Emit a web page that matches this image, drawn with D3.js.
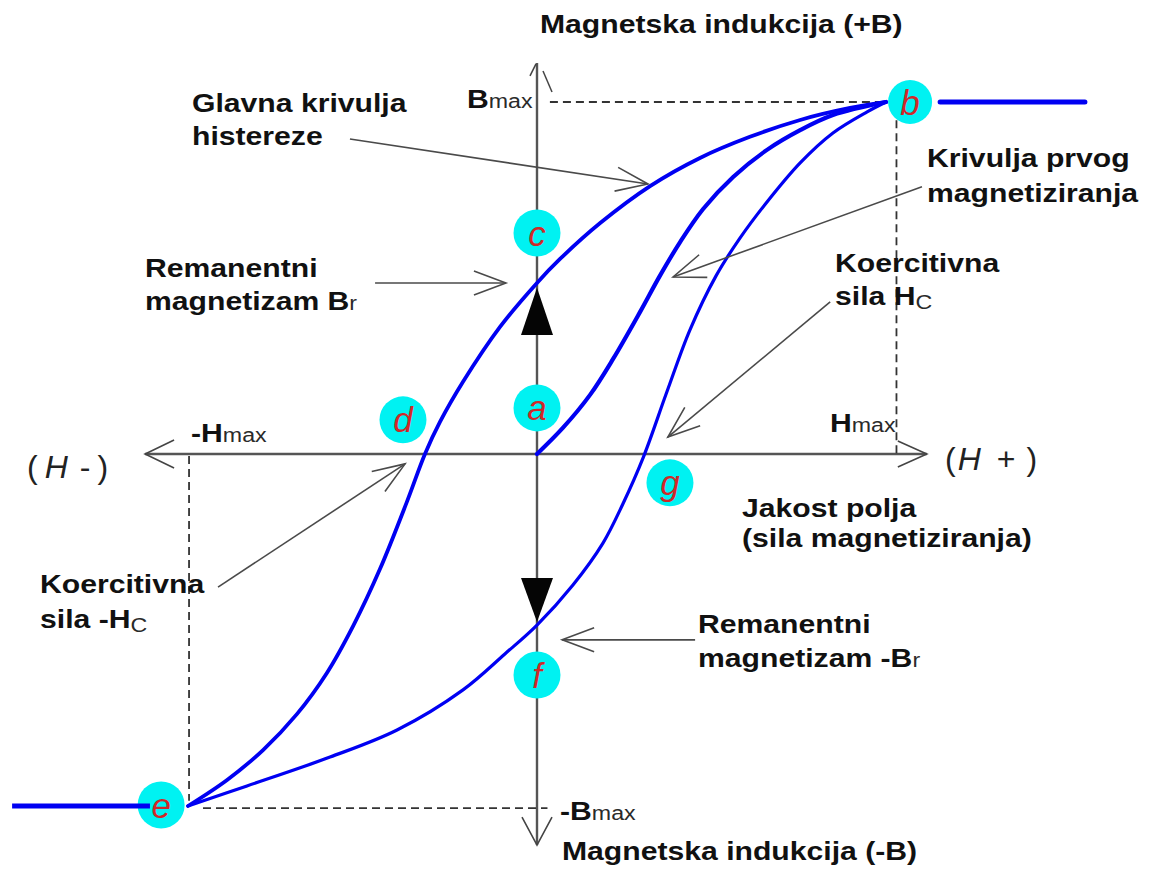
<!DOCTYPE html>
<html><head><meta charset="utf-8">
<script src="https://cdn.jsdelivr.net/npm/d3@7"></script>
<style>body{margin:0;background:#fff}</style>
</head><body><svg id="c" width="1150" height="872"></svg>
<script>
// ---- data (H and B in units of Hmax / Bmax) ----
const upperH = [1.0, 0.897, 0.754, 0.610, 0.467, 0.324, 0.181, 0.066, 0.0, -0.106, -0.212, -0.278, -0.321, -0.372, -0.450, -0.527, -0.602, -0.688, -0.785, -0.888, -1.0];
const upperB = [1.0, 0.983, 0.949, 0.901, 0.841, 0.761, 0.656, 0.554, 0.486, 0.361, 0.205, 0.091, 0.0, -0.134, -0.327, -0.489, -0.622, -0.739, -0.841, -0.926, -1.0];
const lowerH = [-1.0, -0.831, -0.593, -0.401, -0.212, -0.092, 0.0, 0.103, 0.189, 0.246, 0.304, 0.372, 0.438, 0.513, 0.582, 0.659, 0.754, 0.848, 0.946, 1.0];
const lowerB = [-1.0, -0.943, -0.861, -0.784, -0.670, -0.568, -0.486, -0.372, -0.253, -0.142, -0.011, 0.176, 0.352, 0.506, 0.614, 0.716, 0.827, 0.912, 0.972, 1.0];
const initH = [0, 0.074, 0.152, 0.218, 0.295, 0.352, 0.410, 0.476, 0.562, 0.659, 0.754, 0.848, 1.0];
const initB = [0, 0.074, 0.168, 0.270, 0.403, 0.506, 0.602, 0.696, 0.787, 0.864, 0.920, 0.963, 1.0];
const satRightH = [1.155, 1.57], satRightB = [1, 1];
const satLeftH = [-1.504, -1.109], satLeftB = [-1, -1];
const pointLabels = ["a", "b", "c", "d", "e", "f", "g"];
const pointH = [0, 1.069, 0, -0.384, -1.077, 0, 0.381];
const pointB = [0.131, 1.0, 0.628, 0.097, -0.997, -0.628, -0.082];
// annotation arrows: [fromH, fromB, toH, toB]
const annotArrows = [
  [-0.536, 0.895, 0.318, 0.767],
  [-0.464, 0.486, -0.089, 0.486],
  [1.103, 0.759, 0.390, 0.503],
  [0.840, 0.432, 0.375, 0.048],
  [-0.914, -0.378, -0.378, -0.028],
  [0.453, -0.528, 0.072, -0.528]
];

const zip = (a, b) => a.map((v, i) => [v, b[i]]);

const svg = d3.select("#c");
const x = d3.scaleLinear().domain([-1, 1]).range([188, 886]);
const y = d3.scaleLinear().domain([-1, 1]).range([806, 102]);

const FONT = "'Liberation Sans', Arial, sans-serif";
const BLUE = "#0000f2";

function arrowHead(g, tx, ty, ux, uy, len, half, color, sw) {
  const nx = -uy, ny = ux;
  g.append("polyline")
    .attr("points", [[tx - ux*len + nx*half, ty - uy*len + ny*half], [tx, ty], [tx - ux*len - nx*half, ty - uy*len - ny*half]].map(p => p.join(",")).join(" "))
    .attr("fill", "none").attr("stroke", color).attr("stroke-width", sw);
}
function arrow(g, x1, y1, x2, y2, len, half, color, sw) {
  g.append("line").attr("x1", x1).attr("y1", y1).attr("x2", x2).attr("y2", y2)
    .attr("stroke", color).attr("stroke-width", sw);
  const L = Math.hypot(x2 - x1, y2 - y1);
  arrowHead(g, x2, y2, (x2 - x1)/L, (y2 - y1)/L, len, half, color, sw);
}

// ---- axes ----
const ax = svg.append("g");
const x0 = x(0), y0 = y(0);
ax.append("line").attr("x1", x(-1.123)).attr("x2", x(1.117)).attr("y1", y0).attr("y2", y0)
  .attr("stroke", "#555").attr("stroke-width", 2.4);
ax.append("line").attr("x1", x0).attr("x2", x0).attr("y1", y(1.111)).attr("y2", y(-1.111))
  .attr("stroke", "#555").attr("stroke-width", 2.4);
arrowHead(ax, x(-1.123), y0, -1, 0, 29, 14, "#444", 1.6);
arrowHead(ax, x(1.117), y0, 1, 0, 29, 13, "#444", 1.6);
arrowHead(ax, x0, y(-1.111), 0, 1, 28, 15, "#444", 1.6);
// top arrow (partially drawn head)
const tyTop = y(1.111);
ax.append("line").attr("x1", x0 - 7).attr("y1", tyTop + 13).attr("x2", x0 - 1).attr("y2", tyTop + 1)
  .attr("stroke", "#444").attr("stroke-width", 1.5);
ax.append("line").attr("x1", x0 + 6).attr("y1", tyTop + 8).attr("x2", x0 + 15).attr("y2", tyTop + 29)
  .attr("stroke", "#444").attr("stroke-width", 1.5);

// ---- dashed guides ----
const dg = svg.append("g").attr("stroke", "#333").attr("stroke-width", 1.8).attr("stroke-dasharray", "8,5").attr("fill", "none");
dg.append("line").attr("x1", x(0.037)).attr("x2", x(1)).attr("y1", y(1)).attr("y2", y(1));
dg.append("line").attr("x1", x(1.03)).attr("x2", x(1.03)).attr("y1", y(0.985)).attr("y2", y(0));
dg.append("line").attr("x1", x(-0.957)).attr("x2", x(0.03)).attr("y1", y(-1.006)).attr("y2", y(-1.006));
dg.append("line").attr("x1", x(-0.997)).attr("x2", x(-0.997)).attr("y1", y(-0.006)).attr("y2", y(-0.985));

// ---- curves ----
const line = d3.line().x(d => x(d[0])).y(d => y(d[1])).curve(d3.curveCatmullRom.alpha(0.5));
const cg = svg.append("g").attr("fill", "none").attr("stroke", BLUE).attr("stroke-linecap", "round");
cg.append("path").attr("d", line(zip(lowerH, lowerB))).attr("stroke-width", 3.2);
cg.append("path").attr("d", line(zip(upperH, upperB))).attr("stroke-width", 3.8);
cg.append("path").attr("d", line(zip(initH, initB))).attr("stroke-width", 4.2);
cg.append("path").attr("d", d3.line().x(d => x(d[0])).y(d => y(d[1]))(zip(satRightH, satRightB))).attr("stroke-width", 5);

// ---- direction triangles ----
const tri = svg.append("g").attr("fill", "#050505");
tri.append("polygon").attr("points", [[x0, y(0.472)], [x0 - 16, y(0.338)], [x0 + 16, y(0.338)]].map(p => p.join(",")).join(" "));
tri.append("polygon").attr("points", [[x0, y(-0.477)], [x0 - 16, y(-0.352)], [x0 + 16, y(-0.352)]].map(p => p.join(",")).join(" "));

// ---- annotation arrows ----
const ag = svg.append("g");
annotArrows.forEach(a => arrow(ag, x(a[0]), y(a[1]), x(a[2]), y(a[3]), 32, 12, "#4a4a4a", 1.6));

// ---- points ----
const pg = svg.append("g");
pointLabels.forEach((lab, i) => {
  pg.append("circle").attr("cx", x(pointH[i])).attr("cy", y(pointB[i])).attr("r", lab === "b" ? 22 : 23.5).attr("fill", "#00f2f2");
});
svg.append("path").attr("d", d3.line().x(d => x(d[0])).y(d => y(d[1]))(zip(satLeftH, satLeftB)))
  .attr("stroke", BLUE).attr("stroke-width", 5).attr("fill", "none");
pointLabels.forEach((lab, i) => {
  svg.append("text").attr("x", x(pointH[i])).attr("y", y(pointB[i])).attr("dy", "0.36em")
    .attr("text-anchor", "middle").attr("font-family", FONT).attr("font-style", "italic")
    .attr("font-size", 35).attr("fill", "#d02828").text(lab);
});

// ---- text labels ----
function label(px, py, parts, opts = {}) {
  const sx = opts.sx || 1.16;
  const t = svg.append("text").attr("transform", `translate(${px},${py}) scale(${sx},1)`)
    .attr("font-family", FONT).attr("fill", "#111");
  parts.forEach(p => {
    const s = t.append("tspan").text(p.t);
    if (p.sub) { s.attr("font-size", 20).attr("font-weight", "normal").attr("fill", "#2a2a2a"); }
    else { s.attr("font-size", opts.size || 26).attr("font-weight", opts.weight || "bold"); }
    if (p.dy) s.attr("dy", p.dy);
    if (p.it) s.attr("font-style", "italic");
    if (p.dx) s.attr("dx", p.dx);
  });
  return t;
}
label(540, 33, [{t: "Magnetska indukcija (+B)"}]);
label(562, 860, [{t: "Magnetska indukcija (-B)"}]);
label(467, 108, [{t: "B"}, {t: "max", sub: true}]);
label(192, 112, [{t: "Glavna krivulja"}]);
label(192, 145, [{t: "histereze"}]);
label(145, 277, [{t: "Remanentni"}]);
label(145, 310, [{t: "magnetizam B"}, {t: "r", sub: true}]);
label(927, 167, [{t: "Krivulja prvog"}]);
label(927, 202, [{t: "magnetiziranja"}]);
label(835, 272, [{t: "Koercitivna"}]);
label(835, 305, [{t: "sila H"}, {t: "C", sub: true, dy: 4}]);
label(191, 442, [{t: "-H"}, {t: "max", sub: true}]);
label(830, 432, [{t: "H"}, {t: "max", sub: true}]);
label(742, 517, [{t: "Jakost polja"}]);
label(742, 547, [{t: "(sila magnetiziranja)"}]);
label(40, 593, [{t: "Koercitivna"}]);
label(40, 628, [{t: "sila -H"}, {t: "C", sub: true, dy: 4}]);
label(698, 633, [{t: "Remanentni"}]);
label(698, 667, [{t: "magnetizam -B"}, {t: "r", sub: true}]);
label(560, 820, [{t: "-B"}, {t: "max", sub: true}]);
label(27, 478, [{t: "("}, {t: "H", it: true, dx: 7}, {t: "-", dx: 12}, {t: ")", dx: 7}], {sx: 1, size: 32, weight: "normal"}).attr("fill", "#222");
label(945, 470, [{t: "("}, {t: "H", it: true, dx: 2}, {t: "+", dx: 16}, {t: ")", dx: 11}], {sx: 1, size: 32, weight: "normal"}).attr("fill", "#222");
</script>
</body></html>
